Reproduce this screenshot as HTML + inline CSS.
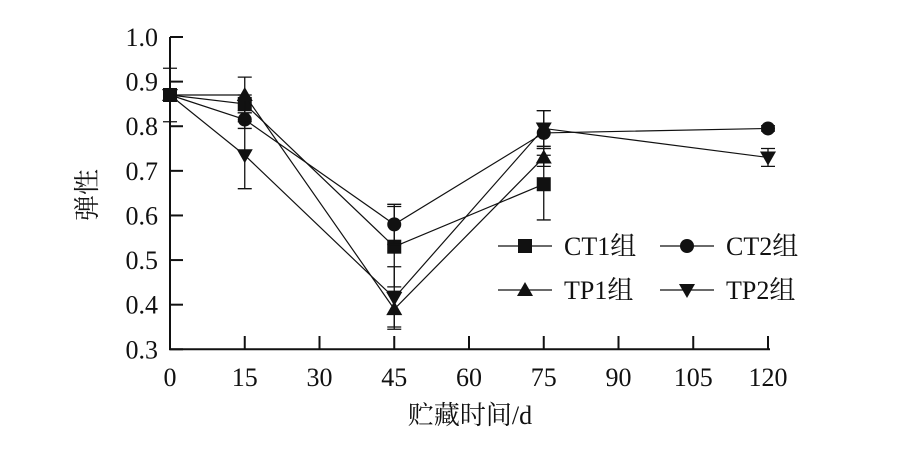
<!DOCTYPE html>
<html><head><meta charset="utf-8"><style>
body{margin:0;background:#fff}
svg text{font-family:"Liberation Serif","Noto Serif CJK SC",serif;fill:#111}
</style></head><body>
<svg width="904" height="465" viewBox="0 0 904 465" id="c"></svg>
<script>
const days=[0,15,45,75,120];
const ct1=[0.87,0.85,0.53,0.67,null];
const ct1Err=[0.005,0.02,0.09,0.08,null];
const ct2=[0.87,0.815,0.58,0.785,0.795];
const ct2Err=[0.005,0.02,0.045,0.05,0.006];
const tp1=[0.87,0.87,0.39,0.73,null];
const tp1Err=[0.005,0.04,0.04,0.02,null];
const tp2=[0.87,0.735,0.415,0.795,0.73];
const tp2Err=[0.06,0.075,0.07,0.04,0.02];
const xTicks=[0,15,30,45,60,75,90,105,120];
const yTicks=[0.3,0.4,0.5,0.6,0.7,0.8,0.9,1.0];
const X=v=>170+v*(598/120);
const Y=v=>349.3-(v-0.3)*(312.3/0.7);
const NS="http://www.w3.org/2000/svg",svg=document.getElementById('c');
function mk(t,a,p){const e=document.createElementNS(NS,t);for(const k in a)e.setAttribute(k,a[k]);(p||svg).appendChild(e);return e;}
let e;
e=mk('path',{d:`M170 ${Y(1.0)}V349.3H${X(120)+2}`,stroke:'#111','stroke-width':2,fill:'none'});


xTicks.forEach(t=>{
 e=mk('line',{x1:X(t),x2:X(t),y1:349.3,y2:336,stroke:'#111','stroke-width':2});
 
 
 e=mk('text',{x:X(t),y:386,'text-anchor':'middle','font-size':26});e.textContent=t;
 
 
});
yTicks.forEach(t=>{
 e=mk('line',{x1:170,x2:183,y1:Y(t),y2:Y(t),stroke:'#111','stroke-width':2});
 
 
 e=mk('text',{x:158,y:Y(t)+9,'text-anchor':'end','font-size':26});e.textContent=t.toFixed(1);
 
 
});
e=mk('text',{x:470,y:424,'text-anchor':'middle','font-size':26});e.textContent='贮藏时间/d';


e=mk('text',{x:0,y:0,'text-anchor':'middle','font-size':26,transform:'translate(96,195) rotate(-90)'});e.textContent='弹性';


function marker(type,x,y,p){
 if(type==='sq')return mk('rect',{x:x-7,y:y-7,width:14,height:14,fill:'#111'},p);
 if(type==='ci')return mk('circle',{cx:x,cy:y,r:7,fill:'#111'},p);
 if(type==='up')return mk('path',{d:`M${x} ${y-8}L${x+8} ${y+6}L${x-8} ${y+6}Z`,fill:'#111'},p);
 return mk('path',{d:`M${x} ${y+8}L${x+8} ${y-6}L${x-8} ${y-6}Z`,fill:'#111'},p);
}
const series=[['ct1',ct1,ct1Err,'sq'],['ct2',ct2,ct2Err,'ci'],['tp1',tp1,tp1Err,'up'],['tp2',tp2,tp2Err,'dn']];
series.forEach(([n,vals,errs,m])=>{
 const g=mk('g',{});
 
 
 const pts=days.map((d,i)=>vals[i]==null?null:[X(d),Y(vals[i])]).filter(p=>p);
 e=mk('polyline',{points:pts.map(p=>p.join(',')).join(' '),fill:'none',stroke:'#111','stroke-width':1.2},g);
 
 
 days.forEach((d,i)=>{
  if(vals[i]==null)return;
  const x=X(d),t=Y(vals[i]+errs[i]),b=Y(vals[i]-errs[i]);
  e=mk('path',{d:`M${x} ${t}V${b}M${x-7} ${t}H${x+7}M${x-7} ${b}H${x+7}`,stroke:'#111','stroke-width':1.3,fill:'none'},g);
  
  
  e=marker(m,x,Y(vals[i]),g);
  
  
 });
});
const leg=[['CT1组','sq',498,246],['CT2组','ci',660,246],['TP1组','up',498,290],['TP2组','dn',660,290]];
leg.forEach(([t,m,x,y])=>{
 const g=mk('g',{});
 
 
 mk('line',{x1:x,x2:x+54,y1:y,y2:y,stroke:'#111','stroke-width':1.3},g);
 marker(m,x+27,y,g);
 e=mk('text',{x:x+66,y:y+9,'font-size':26},g);e.textContent=t;
});
</script>
</body></html>
